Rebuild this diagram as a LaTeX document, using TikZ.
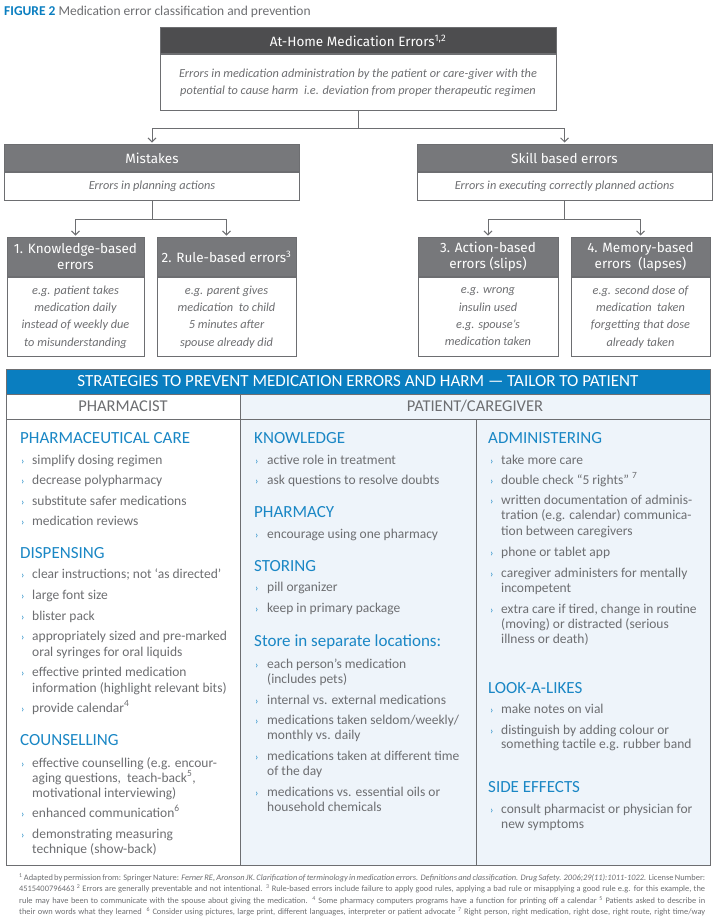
\documentclass[tikz,border=0pt]{standalone}
\usepackage{fontspec}
\setmainfont{Carlito}
\newfontfamily\headfont{Fira Sans}
\usetikzlibrary{arrows.meta}

\definecolor{darkhead}{HTML}{4D4D4F}
\definecolor{greyhead}{HTML}{77787B}
\definecolor{frame}{HTML}{6D6E71}
\definecolor{txtgray}{HTML}{6D6E71}
\definecolor{medblue}{HTML}{0A7EC0}
\definecolor{headblue}{HTML}{1A87C5}
\definecolor{panel}{HTML}{EEF4FA}

\tikzset{
  hdr/.style={rectangle, draw=frame, line width=1pt, fill=greyhead, text=white,
    font=\headfont\fontsize{13.5}{16}\selectfont, align=center, inner sep=0pt},
  desc/.style={rectangle, draw=frame, line width=1pt, fill=white, text=txtgray,
    font=\itshape\fontsize{12.3}{17.3}\selectfont, align=center, inner sep=0pt},
  conn/.style={draw=frame, line width=0.9pt},
  arr/.style={conn, shorten >=1.5pt, -{Straight Barb[length=4pt,width=8pt]}},
  cell/.style={rectangle, draw=frame, line width=1pt, minimum height=25pt, inner sep=0pt,
    text=txtgray, font=\fontsize{16.5}{18}\selectfont},
  colbox/.style={rectangle, draw=frame, line width=1pt, minimum height=446pt, inner sep=0pt, anchor=north west},
  sect/.style={text=headblue, font=\fontsize{17}{19}\selectfont, inner sep=0pt, anchor=base west},
  itm/.style={text=txtgray, font=\fontsize{13.5}{15}\selectfont, inner sep=0pt, anchor=base west},
  bulletmark/.style={text=headblue, font=\fontsize{10}{10}\selectfont, inner sep=0pt, anchor=base west},
  fnote/.style={text=txtgray, font=\fontsize{8.4}{10}\selectfont, inner sep=0pt, anchor=base west},
}
\newcommand{\fnline}[1]{\makebox[686pt][s]{#1}}

\begin{document}
\begin{tikzpicture}[x=1pt,y=-1pt]
\useasboundingbox (0,0) rectangle (717,919);

\node[anchor=base west, inner sep=0pt, font=\fontsize{13.5}{15}\selectfont] (title) at (4,15)
  {\textcolor{medblue}{\textbf{FIGURE 2}} \textcolor{txtgray}{Medication error classification and prevention}};

% classification tree
\node[hdr, fill=darkhead, minimum width=396pt, minimum height=26pt, anchor=north] (tophead) at (358,27)
  {At-Home Medication Errors\textsuperscript{1,2}};
\node[desc, minimum width=396pt, minimum height=56pt, anchor=north] (topdesc) at (tophead.south)
  {Errors in medication administration by the patient or care-giver with the\\
   potential to cause harm\ \ i.e. deviation from proper therapeutic regimen};

\node[hdr, minimum width=295pt, minimum height=27pt, anchor=north] (misthead) at (152,144) {Mistakes};
\node[desc, minimum width=295pt, minimum height=28pt, anchor=north] (mistdesc) at (misthead.south)
  {Errors in planning actions};
\node[hdr, minimum width=295pt, minimum height=27pt, anchor=north] (skillhead) at (564.5,144) {Skill based errors};
\node[desc, minimum width=295pt, minimum height=28pt, anchor=north] (skilldesc) at (skillhead.south)
  {Errors in executing correctly planned actions};

\node[hdr, minimum width=137pt, minimum height=39pt, anchor=north] (knowhead) at (75.5,237)
  {1. Knowledge-based\\errors};
\node[desc, minimum width=137pt, minimum height=79pt, anchor=north] (knowdesc) at (knowhead.south)
  {e.g. patient takes\\medication daily\\instead of weekly due\\to misunderstanding};
\node[hdr, minimum width=139pt, minimum height=39pt, anchor=north] (rulehead) at (226.5,237)
  {2. Rule-based errors\textsuperscript{3}};
\node[desc, minimum width=139pt, minimum height=79pt, anchor=north] (ruledesc) at (rulehead.south)
  {e.g. parent gives\\medication\ \ to child\\5 minutes after\\spouse already did};
\node[hdr, minimum width=140pt, minimum height=39pt, anchor=north] (acthead) at (488,237)
  {3. Action-based\\errors (slips)};
\node[desc, minimum width=140pt, minimum height=79pt, anchor=north] (actdesc) at (acthead.south)
  {e.g. wrong\\insulin used\\e.g. spouse’s\\medication taken};
\node[hdr, minimum width=139pt, minimum height=39pt, anchor=north] (memhead) at (640.5,237)
  {4. Memory-based\\errors\ \ (lapses)};
\node[desc, minimum width=139pt, minimum height=79pt, anchor=north] (memdesc) at (memhead.south)
  {e.g. second dose of\\medication\ \ taken\\forgetting that dose\\already taken};

\draw[conn] (topdesc.south) -- ++(0,17) coordinate (topfork);
\draw[arr] (topfork) -| (misthead.north);
\draw[arr] (topfork) -| (skillhead.north);
\draw[conn] (mistdesc.south) -- ++(0,18) coordinate (mistfork);
\draw[arr] (mistfork) -| (knowhead.north);
\draw[arr] (mistfork) -| (rulehead.north);
\draw[conn] (skilldesc.south) -- ++(0,18) coordinate (skillfork);
\draw[arr] (skillfork) -| (acthead.north);
\draw[arr] (skillfork) -| (memhead.north);

% strategies table
\node[rectangle, fill=medblue, draw=frame, line width=1pt, minimum width=704pt, minimum height=25pt,
  inner sep=0pt, text=white, font=\fontsize{17}{19}\selectfont] (banner) at (358,381.5)
  {STRATEGIES TO PREVENT MEDICATION ERRORS AND HARM — TAILOR TO PATIENT};
\node[cell, fill=white, minimum width=234pt] (pharmcell) at (123,406.5) {PHARMACIST};
\node[cell, fill=panel, minimum width=470pt] (patcell) at (475,406.5) {PATIENT/CAREGIVER};
\node[colbox, fill=white, minimum width=234pt] (pharmcol) at (6,419) {};
\node[colbox, fill=panel, minimum width=235.5pt] (patcolA) at (240,419) {};
\node[colbox, fill=panel, minimum width=234.5pt] (patcolB) at (475.5,419) {};

% 0 = heading, 1 = bullet line, 2 = continued line
\foreach \y/\k/\txt [count=\i] in {
  443/0/PHARMACEUTICAL CARE, 464/1/simplify dosing regimen, 484/1/decrease polypharmacy,
  505/1/substitute safer medications, 525/1/medication reviews,
  558/0/DISPENSING, 578/1/clear instructions; not ‘as directed’, 599/1/large font size,
  620/1/blister pack, 640/1/appropriately sized and pre-marked, 656/2/oral syringes for oral liquids,
  676/1/effective printed medication, 692/2/information (highlight relevant bits),
  712/1/provide calendar\textsuperscript{4},
  745/0/COUNSELLING, 767/1/effective counselling (e.g. encour-,
  782/2/{aging questions,\ \ teach-back\textsuperscript{5},}, 797/2/motivational interviewing),
  817/1/enhanced communication\textsuperscript{6}, 838/1/demonstrating measuring,
  853/2/technique (show-back)}{
  \ifcase\k\relax
    \node[sect] (ph\i) at (20,\y) {\txt};
  \or
    \node[bulletmark] (phm\i) at (21,\y) {›};
    \node[itm] (ph\i) at (32,\y) {\txt};
  \or
    \node[itm] (ph\i) at (32,\y) {\txt};
  \fi
}

\foreach \y/\k/\txt [count=\i] in {
  443/0/KNOWLEDGE, 464/1/active role in treatment, 484/1/ask questions to resolve doubts,
  517/0/PHARMACY, 538/1/encourage using one pharmacy,
  571/0/STORING, 591/1/pill organizer, 612/1/keep in primary package,
  646/0/Store in separate locations:, 668/1/each person’s medication, 683/2/(includes pets),
  704/1/internal vs. external medications, 724/1/{medications taken seldom/weekly/},
  739/2/monthly vs. daily, 760/1/medications taken at different time, 775/2/of the day,
  796/1/medications vs. essential oils or, 811/2/household chemicals}{
  \ifcase\k\relax
    \node[sect] (pa\i) at (254,\y) {\txt};
  \or
    \node[bulletmark] (pam\i) at (255,\y) {›};
    \node[itm] (pa\i) at (267,\y) {\txt};
  \or
    \node[itm] (pa\i) at (267,\y) {\txt};
  \fi
}

\foreach \y/\k/\txt [count=\i] in {
  443/0/ADMINISTERING, 464/1/take more care, 484/1/double check “5 rights” \textsuperscript{7},
  504/1/written documentation of adminis-, 519/2/tration (e.g. calendar) communica-,
  535/2/tion between caregivers, 556/1/phone or tablet app,
  577/1/caregiver administers for mentally, 592/2/incompetent,
  613/1/{extra care if tired, change in routine}, 628/2/(moving) or distracted (serious,
  643/2/illness or death),
  693/0/LOOK-A-LIKES, 713/1/make notes on vial, 734/1/distinguish by adding colour or,
  748/2/something tactile e.g. rubber band,
  792/0/SIDE EFFECTS, 813/1/consult pharmacist or physician for, 828/2/new symptoms}{
  \ifcase\k\relax
    \node[sect] (pb\i) at (488,\y) {\txt};
  \or
    \node[bulletmark] (pbm\i) at (490,\y) {›};
    \node[itm] (pb\i) at (501,\y) {\txt};
  \or
    \node[itm] (pb\i) at (501,\y) {\txt};
  \fi
}

% footnotes
\node[fnote] (fn1) at (19,880) {\fnline{\textsuperscript{1} Adapted by permission from: Springer Nature: \textit{Ferner RE, Aronson JK. Clarification of terminology in medication errors. Definitions and classification. Drug Safety. 2006;29(11):1011-1022.} License Number:}};
\node[fnote] (fn2) at (19,891.5) {\fnline{4515400796463 \textsuperscript{2} Errors are generally preventable and not intentional. \textsuperscript{3} Rule-based errors include failure to apply good rules, applying a bad rule or misapplying a good rule e.g. for this example, the}};
\node[fnote] (fn3) at (19,903) {\fnline{rule may have been to communicate with the spouse about giving the medication. \textsuperscript{4} Some pharmacy computers programs have a function for printing off a calendar \textsuperscript{5} Patients asked to describe in}};
\node[fnote] (fn4) at (19,914.5) {\fnline{their own words what they learned\ \ \textsuperscript{6} Consider using pictures, large print, different languages, interpreter or patient advocate \textsuperscript{7} Right person, right medication, right dose, right route, right time/way}};

\end{tikzpicture}
\end{document}
